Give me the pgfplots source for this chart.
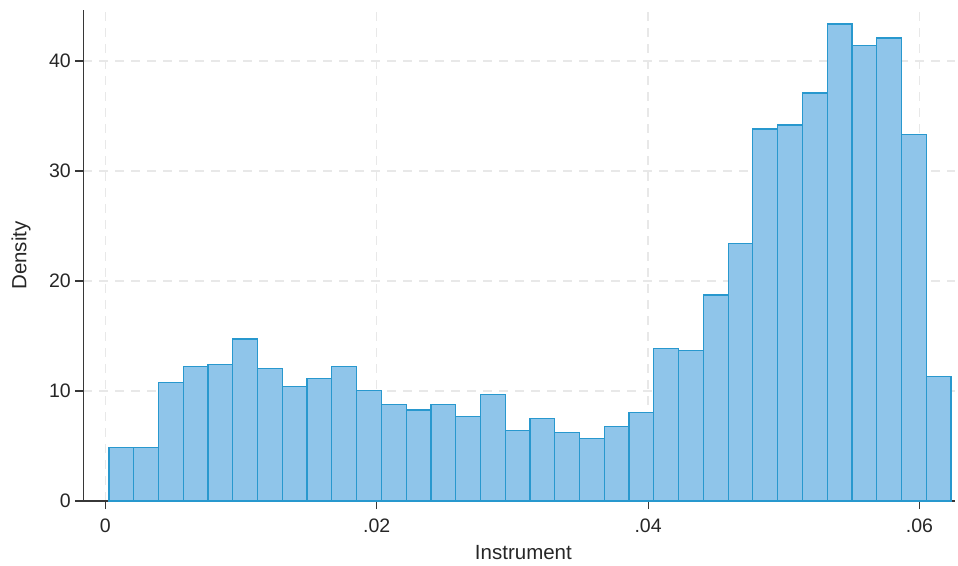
\documentclass[border=0pt]{standalone}
\usepackage{pgfplots}
\pgfplotsset{compat=1.18}
\usepackage{fontspec}
\setmainfont{Liberation Sans}
\definecolor{barfill}{RGB}{143,197,234}
\definecolor{baredge}{RGB}{40,152,206}
\definecolor{gridc}{RGB}{232,232,232}
\definecolor{axc}{RGB}{55,55,55}
\begin{document}
\begin{tikzpicture}
\useasboundingbox (0pt,0pt) rectangle (958pt,565pt);
\begin{axis}[
  at={(83.3pt,64pt)}, anchor=south west,
  scale only axis,
  width=871.5pt, height=491pt,
  xmin=-0.00162, xmax=0.0626,
  ymin=0, ymax=44.64,
  axis x line*=bottom,
  axis y line*=left,
  axis line style={axc, line width=1.1pt},
  xtick={0,0.02,0.04,0.06},
  xticklabels={0,.02,.04,.06},
  scaled x ticks=false,
  ytick={0,10,20,30,40},
  yticklabels={0,10,20,30,40},
  xtick align=outside, ytick align=outside,
  xtick pos=bottom, ytick pos=left,
  major tick length=8pt,
  xtick style={draw=axc, line width=1.1pt, solid},
  ytick style={draw=axc, line width=1.1pt, solid},
  grid=major,
  major grid style={gridc, line width=1.3pt, dash pattern=on 9pt off 7pt},
  /pgf/number format/assume math mode=true,
  ticklabel style={font=\fontsize{19.5}{23}\selectfont, text=black!85},
  xticklabel style={yshift=-6pt},
  yticklabel style={xshift=-1pt},
  xlabel={Instrument},
  ylabel={Density},
  label style={font=\fontsize{20.5}{24}\selectfont, text=black!85},
  xlabel style={at={(axis description cs:0.505,-0.1049)}, anchor=center},
  ylabel style={at={(axis description cs:-0.0715,0.5)}, anchor=center},
  clip=false,
]
\addplot[ybar, bar width=0.001825, fill=barfill, draw=baredge, line width=1.2pt] coordinates {
(0.0011825,4.85)
(0.0030075,4.85)
(0.0048325,10.79)
(0.0066575,12.21)
(0.0084825,12.42)
(0.0103075,14.73)
(0.0121325,12.03)
(0.0139575,10.42)
(0.0157825,11.12)
(0.0176075,12.21)
(0.0194325,10.06)
(0.0212575,8.79)
(0.0230825,8.27)
(0.0249075,8.79)
(0.0267325,7.70)
(0.0285575,9.70)
(0.0303825,6.42)
(0.0322075,7.52)
(0.0340325,6.24)
(0.0358575,5.70)
(0.0376825,6.79)
(0.0395075,8.06)
(0.0413325,13.85)
(0.0431575,13.67)
(0.0449825,18.73)
(0.0468075,23.40)
(0.0486325,33.82)
(0.0504575,34.18)
(0.0522825,37.09)
(0.0541075,43.36)
(0.0559325,41.40)
(0.0577575,42.09)
(0.0595825,33.30)
(0.0614075,11.33)
};
\end{axis}
\end{tikzpicture}
\end{document}
